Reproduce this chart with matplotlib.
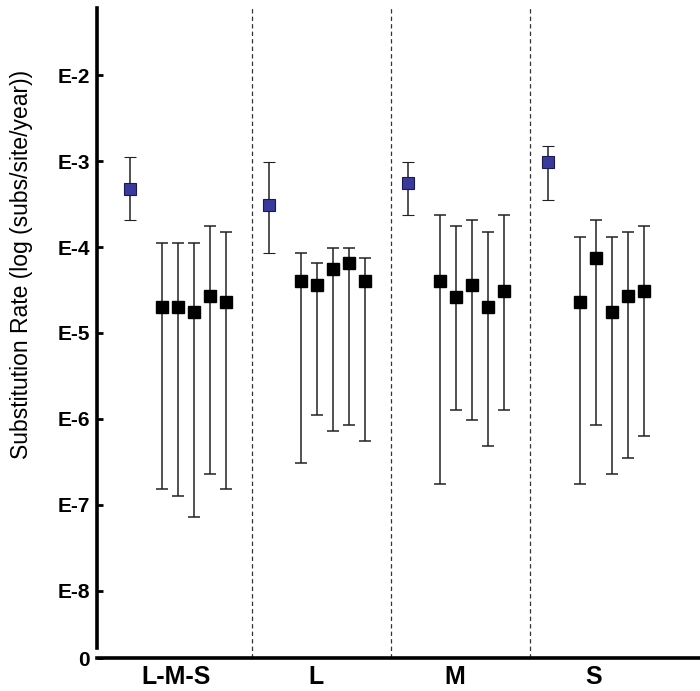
import matplotlib
matplotlib.use("Agg")
import matplotlib.pyplot as plt

plt.rcParams['font.family'] = ['Liberation Sans', 'DejaVu Sans']

# data (log10 of substitution rate)
groups = ['L-M-S', 'L', 'M', 'S']

blue_mean = [-3.32, -3.51, -3.26, -3.01]
blue_upper = [-2.95, -3.01, -3.01, -2.82]
blue_lower = [-3.69, -4.07, -3.63, -3.45]

black_mean = [
    [-4.70, -4.70, -4.76, -4.57, -4.64],
    [-4.39, -4.44, -4.26, -4.19, -4.39],
    [-4.39, -4.58, -4.44, -4.70, -4.51],
    [-4.64, -4.13, -4.76, -4.57, -4.51],
]
black_upper = [
    [-3.95, -3.95, -3.95, -3.76, -3.82],
    [-4.07, -4.19, -4.01, -4.01, -4.13],
    [-3.63, -3.76, -3.69, -3.82, -3.63],
    [-3.88, -3.69, -3.88, -3.82, -3.76],
]
black_lower = [
    [-6.82, -6.89, -7.14, -6.64, -6.82],
    [-6.51, -5.95, -6.14, -6.07, -6.26],
    [-6.76, -5.89, -6.01, -6.32, -5.89],
    [-6.76, -6.07, -6.64, -6.45, -6.20],
]

ytick_vals = [-2, -3, -4, -5, -6, -7, -8, -8.78]
ytick_labels = ['E-2', 'E-3', 'E-4', 'E-5', 'E-6', 'E-7', 'E-8', '0']

# layout
pitch = 8.7
first_black = 2.0

fig = plt.figure(figsize=(7, 6.91), dpi=100)
ax = fig.add_axes([97 / 700, 33 / 691, 603 / 700, 650 / 691])

for g in range(len(groups)):
    x0 = g * pitch
    m = blue_mean[g]
    ax.errorbar([x0], [m], yerr=[[m - blue_lower[g]], [blue_upper[g] - m]],
                fmt='s', color='black', ecolor='#222222', elinewidth=1.1,
                capsize=4.3, capthick=1.1, markersize=8,
                markerfacecolor='#3a3a9e', markeredgecolor='#1a1a50',
                markeredgewidth=0.8, zorder=3)
    xs = [x0 + first_black + k for k in range(len(black_mean[g]))]
    means = black_mean[g]
    lo = [mm - l for mm, l in zip(means, black_lower[g])]
    hi = [u - mm for mm, u in zip(means, black_upper[g])]
    ax.errorbar(xs, means, yerr=[lo, hi], fmt='s', color='black',
                ecolor='#222222', elinewidth=1.1, capsize=4.3, capthick=1.1,
                markersize=8, zorder=3)
    if g < len(groups) - 1:
        ax.axvline(x0 + 7.6, color='#333333', linestyle=(0, (3.5, 2.5)),
                   linewidth=0.9, zorder=1)

ax.set_xlim(-33 / 16, 570 / 16)
ax.set_ylim(-8.78, -1.22)

ax.set_xticks([g * pitch + 2.9 for g in range(len(groups))])
ax.set_xticklabels(groups, fontsize=18, fontweight='bold')
ax.tick_params(axis='x', length=0, pad=5)

ax.set_yticks(ytick_vals)
ax.set_yticklabels(ytick_labels, fontsize=15, fontweight='bold')
ax.tick_params(axis='y', direction='in', length=4, width=2, pad=5)

for side in ['top', 'right']:
    ax.spines[side].set_visible(False)
ax.spines['left'].set_linewidth(2.6)
ax.spines['bottom'].set_linewidth(2.6)
ax.spines['left'].set_bounds(-8.66, -1.22)

fig.text(22 / 700, 1 - 264 / 691, 'Substitution Rate (log (subs/site/year))',
         rotation=90, ha='center', va='center', fontsize=16.5)

fig.savefig('out.png', dpi=100)
